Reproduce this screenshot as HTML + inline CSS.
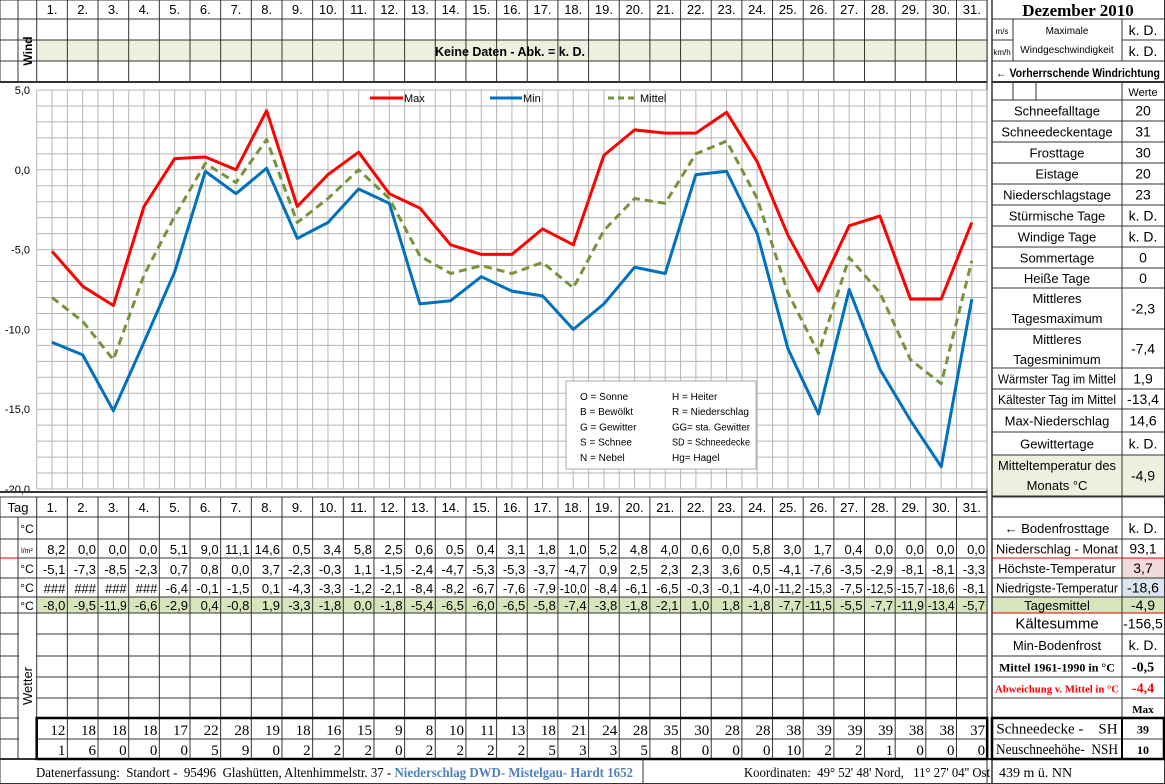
<!DOCTYPE html>
<html><head><meta charset="utf-8">
<style>
html,body{margin:0;padding:0;background:#fff;}
svg{display:block;font-family:"Liberation Sans",sans-serif;}
text{white-space:pre;}
</style></head>
<body>
<svg id="s" width="1165" height="784" viewBox="0 0 1165 784" xmlns="http://www.w3.org/2000/svg"></svg>
<script>
const days = [1,2,3,4,5,6,7,8,9,10,11,12,13,14,15,16,17,18,19,20,21,22,23,24,25,26,27,28,29,30,31];
const maxTemp = [-5.1,-7.3,-8.5,-2.3,0.7,0.8,0.0,3.7,-2.3,-0.3,1.1,-1.5,-2.4,-4.7,-5.3,-5.3,-3.7,-4.7,0.9,2.5,2.3,2.3,3.6,0.5,-4.1,-7.6,-3.5,-2.9,-8.1,-8.1,-3.3];
const minTemp = [-10.8,-11.6,-15.1,-10.8,-6.4,-0.1,-1.5,0.1,-4.3,-3.3,-1.2,-2.1,-8.4,-8.2,-6.7,-7.6,-7.9,-10.0,-8.4,-6.1,-6.5,-0.3,-0.1,-4.0,-11.2,-15.3,-7.5,-12.5,-15.7,-18.6,-8.1];
const minLabels = ["###","###","###","###"];
const meanTemp = [-8.0,-9.5,-11.9,-6.6,-2.9,0.4,-0.8,1.9,-3.3,-1.8,0.0,-1.8,-5.4,-6.5,-6.0,-6.5,-5.8,-7.4,-3.8,-1.8,-2.1,1.0,1.8,-1.8,-7.7,-11.5,-5.5,-7.7,-11.9,-13.4,-5.7];
const precip = [8.2,0.0,0.0,0.0,5.1,9.0,11.1,14.6,0.5,3.4,5.8,2.5,0.6,0.5,0.4,3.1,1.8,1.0,5.2,4.8,4.0,0.6,0.0,5.8,3.0,1.7,0.4,0.0,0.0,0.0,0.0];
const snowDepth = [12,18,18,18,17,22,28,19,18,16,15,9,8,10,11,13,18,21,24,28,35,30,28,28,38,39,39,39,38,38,37];
const newSnow = [1,6,0,0,0,5,9,0,2,2,2,0,2,2,2,2,5,3,3,5,8,0,0,0,10,2,2,1,0,0,0];
const yTicks = [5,0,-5,-10,-15,-20];

const NS="http://www.w3.org/2000/svg";
const svg=document.getElementById('s');
function mk(tag,attrs,parent,txt){const e=document.createElementNS(NS,tag);for(const k in attrs)e.setAttribute(k,attrs[k]);if(txt!==undefined)e.textContent=txt;(parent||svg).appendChild(e);return e;}
const X0=36.7, CW=30.66, XR=X0+31*CW;
const colL=i=>X0+i*CW;
const xDay=d=>X0+(d-0.5)*CW;
const Y5=90, PU=15.96;
const yVal=v=>Y5+(5-v)*PU;
const fmt=v=>v.toFixed(1).replace('.',',');
function line(x1,y1,x2,y2,c,w){return mk('line',{x1,y1,x2,y2,stroke:c||'#333','stroke-width':w||1});}
function rect(x,y,w,h,f){return mk('rect',{x,y,width:w,height:h,fill:f});}
function txt(x,y,s,o){o=o||{};const a={x,y,'font-size':o.fs||13,fill:o.c||'#000','text-anchor':o.a||'middle'};if(o.b)a['font-weight']='bold';if(o.f)a['font-family']=o.f;const t=mk('text',a,o.p,s);
 if(o.max){const L=t.getComputedTextLength();if(L>o.max){t.setAttribute('textLength',o.max);t.setAttribute('lengthAdjust','spacingAndGlyphs');}}
 return t;}

// backgrounds
const band=rect(X0,40,XR-X0,21,'#ebf1de');


const meanBg=rect(X0,597,XR-X0,16,'#d8e4bc');


rect(992,455,130,41,'#ebf1de');rect(1122,455,43,41,'#ebf1de');
rect(1122,558,43,20,'#f2dcdb');rect(1122,578,43,19,'#dce6f1');
rect(992,597,173,16,'#d8e4bc');

// ----- top table grid -----
[0,19,40,61,82].forEach(y=>line(0,y,987,y,'#333',y===82?2:1));
for(let i=0;i<=31;i++){line(colL(i),0,colL(i),82);}
line(18,0,18,82);line(0,0,0,82);
days.forEach(d=>{const t=txt(xDay(d),14,d+'.',{fs:13});

});
const wl=txt(0,0,'Wind',{fs:12,b:true});wl.setAttribute('transform','translate(32,51) rotate(-90)');
txt(510,56,'Keine Daten - Abk. = k. D.',{fs:13,b:true,max:150});

// right top panel
line(992,0,992,784,'#333',1.5);line(1164.5,0,1164.5,784,'#333',1);line(987,0,987,784,'#333',1);
line(992,19,1165,19);line(992,40,1013,40);line(1122,40,1165,40);line(992,61,1165,61);line(992,82,1165,82,'#333',2);
line(1013,19,1013,61);line(1122,19,1122,61);
txt(1078,16,'Dezember 2010',{fs:17,b:true,f:'Liberation Serif'});
txt(1002,34,'m/s',{fs:8,max:16});txt(1002,55,'km/h',{fs:8,max:18});
txt(1067,34,'Maximale',{fs:10,max:100});txt(1067,53,'Windgeschwindigkeit',{fs:10,max:100});
txt(1143,35,'k. D.',{fs:14});txt(1143,56,'k. D.',{fs:14});
txt(1078,77,'← Vorherrschende Windrichtung',{fs:12,b:true,max:164});

// right stats
const rs=[[82,100,'',''],[100,121,'Schneefalltage','20'],[121,142,'Schneedeckentage','31'],[142,163,'Frosttage','30'],[163,184,'Eistage','20'],[184,205,'Niederschlagstage','23'],[205,226,'Stürmische Tage','k. D.'],[226,247,'Windige Tage','k. D.'],[247,268,'Sommertage','0'],[268,288,'Heiße Tage','0'],[288,329,'Mittleres|Tagesmaximum','-2,3'],[329,368,'Mittleres|Tagesminimum','-7,4'],[368,389,'Wärmster Tag im Mittel','1,9'],[389,409,'Kältester Tag im Mittel','-13,4'],[409,432,'Max-Niederschlag','14,6'],[432,455,'Gewittertage','k. D.'],[455,496,'Mitteltemperatur des|Monats °C','-4,9']];
rs.forEach(r=>{line(992,r[1],1165,r[1]);line(1122,r[0],1122,r[1]);
 const parts=r[2].split('|');
 if(parts.length===1){txt(1057,(r[0]+r[1])/2+5,parts[0],{fs:13,max:118});}
 else{txt(1057,r[0]+15,parts[0],{fs:13,max:118});txt(1057,r[0]+35,parts[1],{fs:13,max:118});}
 txt(1143,(r[0]+r[1])/2+5,r[3],{fs:14,max:38});});
line(1013,82,1013,100);line(1036,82,1036,100);txt(1143,96,'Werte',{fs:11});

// ----- chart -----
const g=mk('g',{});


for(let i=0;i<=62;i++){const x=X0+i*CW/2;mk('line',{x1:x,y1:Y5,x2:x,y2:yVal(-20),stroke:'#b5b5b5','stroke-width':1},g);}
for(let v=5;v>=-20;v--){mk('line',{x1:X0,y1:yVal(v),x2:XR,y2:yVal(v),stroke:'#b5b5b5','stroke-width':1},g);}
yTicks.forEach(v=>{const t=txt(30,yVal(v)+4,fmt(v),{fs:11,a:'end',p:g});

});
function series(arr,color,name,dash){const pts=arr.map((v,i)=>xDay(days[i]).toFixed(1)+','+yVal(v).toFixed(1)).join(' ');
 const a={points:pts,fill:'none',stroke:color,'stroke-width':3,'stroke-linejoin':'round'};if(dash)a['stroke-dasharray']=dash;
 const p=mk('polyline',a,g);return p;}
const pMin=series(minTemp,'#0070c0');


const pMean=series(meanTemp,'#77933c',0,'8,5');


const pMax=series(maxTemp,'#ff0000');


// legend
const lg=mk('g',{},g);


mk('line',{x1:370,y1:98,x2:403,y2:98,stroke:'#ff0000','stroke-width':3},lg);txt(404,102,'Max',{fs:11,a:'start',p:lg});
mk('line',{x1:490,y1:98,x2:522,y2:98,stroke:'#0070c0','stroke-width':3},lg);txt(523,102,'Min',{fs:11,a:'start',p:lg});
mk('line',{x1:608,y1:98,x2:636,y2:98,stroke:'#77933c','stroke-width':3,'stroke-dasharray':'6,4'},lg);txt(640,102,'Mittel',{fs:11,a:'start',p:lg});
// key box
const kb=mk('rect',{x:566,y:381,width:190,height:88,fill:'#fff',stroke:'#aaa','stroke-width':1},g);


const keyL=['O = Sonne','B = Bewölkt','G = Gewitter','S = Schnee','N = Nebel'];
const keyR=['H = Heiter','R = Niederschlag','GG= sta. Gewitter','SD = Schneedecke','Hg= Hagel'];
keyL.forEach((s,i)=>txt(580,400+i*15.2,s,{fs:10,a:'start',p:g,max:70}));
keyR.forEach((s,i)=>txt(672,400+i*15.2,s,{fs:10,a:'start',p:g,max:78}));

// ----- bottom table -----
const rows=[497,517,539,558,578,597,613,634,656,677,698,718,739,759];
line(0,492,987,492,'#333',2);
rows.forEach(y=>line(0,y,987,y,'#333',1));
line(0,784-0.5,1165,784-0.5);line(0,759,1165,759,'#333',2);
for(let i=0;i<=31;i++)line(colL(i),497,colL(i),759);
line(0,497,0,784);line(18,517,18,759);
line(0,558,18,558,'#d00',1);
txt(18,512,'Tag',{fs:13});
days.forEach(d=>txt(xDay(d),512,d+'.',{fs:13}));
txt(27,533,'°C',{fs:12});txt(27,553,'l/m²',{fs:7});txt(27,573,'°C',{fs:12});txt(27,592,'°C',{fs:12});txt(27,610,'°C',{fs:12});
rect(19,614,17,144,'#fff');
const wt=txt(0,0,'Wetter',{fs:13});wt.setAttribute('transform','translate(32,686) rotate(-90)');
function valueRow(arr,y,name,labels,fs,fam,isInt){arr.forEach((v,i)=>{const s=(labels&&labels[i])?labels[i]:(isInt?String(v):fmt(v));
 const t=txt(colL(i+1)-2,y,s,{fs:fs||13,a:'end',f:fam,max:CW-4});
 
 });}
valueRow(precip,554,'precip');
valueRow(maxTemp,574,'max-temp');
valueRow(minTemp.map((v,i)=>v),593,'min-temp',minLabels);
valueRow(meanTemp,610,'mean-temp');
valueRow(snowDepth,735,'snow-depth',null,15,'Liberation Serif',true);
valueRow(newSnow,755,'new-snow',null,15,'Liberation Serif',true);
mk('rect',{x:X0,y:718,width:XR-X0,height:41,fill:'none',stroke:'#000','stroke-width':2.5});

// right bottom panel
const rb=[[497,517,'',''],[517,539,'← Bodenfrosttage','k. D.'],[539,558,'Niederschlag - Monat','93,1'],[558,578,'Höchste-Temperatur','3,7'],[578,597,'Niedrigste-Temperatur','-18,6'],[597,613,'Tagesmittel','-4,9'],[613,634,'Kältesumme','-156,5'],[634,656,'Min-Bodenfrost','k. D.'],[656,677,'Mittel 1961-1990 in °C','-0,5'],[677,698,'Abweichung v. Mittel in °C','-4,4'],[698,718,'','Max'],[718,739,'Schneedecke -    SH','39'],[739,759,'Neuschneehöhe-  NSH','10']];
line(992,497,1165,497);
rb.forEach((r,i)=>{line(992,r[1],1165,r[1],(i===2||i===5)?'#d00':'#333');line(1122,r[0],1122,r[1]);
 const cy=(r[0]+r[1])/2+5;let o={fs:13,max:122},ov={fs:14,max:40};
 if(i===8){o={fs:12,b:true,f:'Liberation Serif',max:118};ov={fs:14,b:true,f:'Liberation Serif'};}
 if(i===9){o={fs:11,b:true,f:'Liberation Serif',c:'#f00',max:124};ov={fs:14,b:true,f:'Liberation Serif',c:'#f00'};}
 if(i===10){ov={fs:11,b:true,f:'Liberation Serif'};}
 if(i>=11){o={fs:15,f:'Liberation Serif',max:122};ov={fs:12,b:true,f:'Liberation Serif'};}
 if(i===6){o={fs:15,max:110};}
 txt(1057,cy,r[2],o);txt(1143,cy,r[3],ov);});
mk('rect',{x:992,y:718,width:172,height:41,fill:'none',stroke:'#000','stroke-width':2.5});
line(1122,718,1122,759,'#000',2);

// footer
line(643,759,643,784);
const f1=txt(36,777,'Datenerfassung:  Standort -  95496  Glashütten, Altenhimmelstr. 37 - ',{fs:14,a:'start',f:'Liberation Serif'});


const f2=mk('tspan',{fill:'#4f81bd','font-weight':'bold'},f1,'Niederschlag DWD- Mistelgau- Hardt 1652');
const L1=f1.getComputedTextLength();if(L1>597){f1.setAttribute('textLength',597);f1.setAttribute('lengthAdjust','spacingAndGlyphs');}
const f3=txt(744,777,'Koordinaten:  49° 52\' 48\' Nord,   11° 27\' 04\'\' Ost',{fs:14,a:'start',f:'Liberation Serif',max:246});


const f4=txt(999,777,'439 m ü. NN',{fs:14,a:'start',f:'Liberation Serif'});


</script>
</body></html>
